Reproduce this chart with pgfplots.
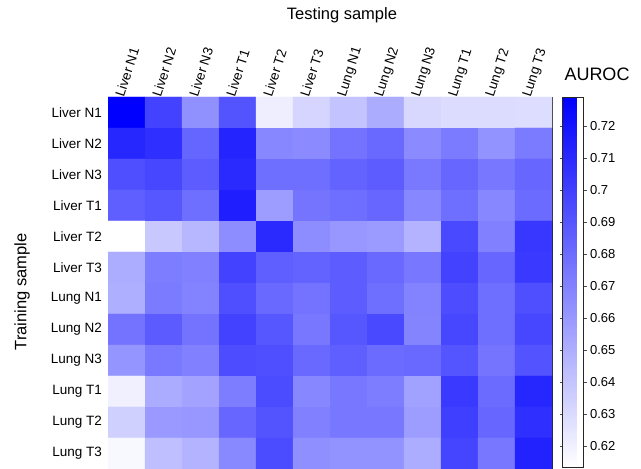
\documentclass[border=0pt]{standalone}
\usepackage{pgfplots}
\pgfplotsset{compat=1.18}
\usepackage{fontspec}
\setmainfont{Liberation Sans}
\begin{document}
\begin{tikzpicture}[x=1pt,y=1pt]
\useasboundingbox (0,0) rectangle (641,469);
\begin{axis}[
  at={(108pt,0pt)}, anchor=south west,
  scale only axis, width=444pt, height=372pt,
  xmin=-0.5, xmax=11.5, ymin=-0.5, ymax=11.5,
  xtick={-0.39,0.61,1.61,2.61,3.61,4.61,5.61,6.61,7.61,8.61,9.61,10.61},
  xticklabels={Liver N1,Liver N2,Liver N3,Liver T1,Liver T2,Liver T3,Lung N1,Lung N2,Lung N3,Lung T1,Lung T2,Lung T3},
  xticklabel pos=right,
  xticklabel style={rotate=72, anchor=north west, font=\fontsize{13.5}{15}\selectfont, inner sep=1.5pt, xshift=1.5pt},
  ytick={0,1,2,3,4,5,6,7,8,9,10,11},
  yticklabels={Lung T3,Lung T2,Lung T1,Lung N3,Lung N2,Lung N1,Liver T3,Liver T2,Liver T1,Liver N3,Liver N2,Liver N1},
  yticklabel style={font=\fontsize{13.5}{15}\selectfont, xshift=-2.5pt},
  tick align=inside,
  major tick length=5pt,
  tick style={black!70, line width=0.6pt},
  axis line style={black!85, line width=0.6pt},
  colormap={bw}{rgb255=(255,255,255) rgb255=(0,0,255)},
  point meta min=0.6134, point meta max=0.729,
  colorbar,
  colorbar style={
    at={(parent axis.north east)}, anchor=north west, xshift=2pt,
    scale only axis, width=21pt, height=370pt,
    ytick={0.62,0.63,0.64,0.65,0.66,0.67,0.68,0.69,0.70,0.71,0.72},
    yticklabels={0.62,0.63,0.64,0.65,0.66,0.67,0.68,0.69,0.7,0.71,0.72},
    yticklabel style={font=\fontsize{13}{15}\selectfont, xshift=0pt},
    tick align=outside, major tick length=3pt,
    tick style={black!70, line width=0.6pt},
    axis line style={black!85, line width=0.6pt},
  },
]
\addplot[matrix plot*, mesh/cols=12, point meta=explicit] table[meta=c] {
x y c
0 11 0.7290
1 11 0.6982
2 11 0.6633
3 11 0.6905
4 11 0.6211
5 11 0.6324
6 11 0.6402
7 11 0.6506
8 11 0.6311
9 11 0.6293
10 11 0.6293
11 11 0.6288
0 10 0.7109
1 10 0.7072
2 10 0.6828
3 10 0.7118
4 10 0.6674
5 10 0.6655
6 10 0.6764
7 10 0.6810
8 10 0.6655
9 10 0.6728
10 10 0.6619
11 10 0.6728
0 9 0.6927
1 9 0.6964
2 9 0.6864
3 9 0.7091
4 9 0.6782
5 9 0.6782
6 9 0.6837
7 9 0.6864
8 9 0.6737
9 9 0.6819
10 9 0.6746
11 9 0.6819
0 8 0.6855
1 8 0.6891
2 8 0.6782
3 8 0.7145
4 8 0.6574
5 8 0.6760
6 8 0.6782
7 8 0.6819
8 8 0.6674
9 8 0.6782
10 8 0.6674
11 8 0.6800
0 7 0.6134
1 7 0.6383
2 7 0.6456
3 7 0.6646
4 7 0.7091
5 7 0.6646
6 7 0.6601
7 7 0.6583
8 7 0.6474
9 7 0.6955
10 7 0.6701
11 7 0.7036
0 6 0.6501
1 6 0.6719
2 6 0.6701
3 6 0.6982
4 6 0.6855
5 6 0.6837
6 6 0.6864
7 6 0.6810
8 6 0.6746
9 6 0.6982
10 6 0.6819
11 6 0.7027
0 5 0.6492
1 5 0.6728
2 5 0.6692
3 5 0.6927
4 5 0.6810
5 5 0.6764
6 5 0.6864
7 5 0.6782
8 5 0.6692
9 5 0.6936
10 5 0.6782
11 5 0.6927
0 4 0.6764
1 4 0.6873
2 4 0.6764
3 4 0.6982
4 4 0.6891
5 4 0.6746
6 4 0.6891
7 4 0.6955
8 4 0.6687
9 4 0.6964
10 4 0.6782
11 4 0.6964
0 3 0.6610
1 3 0.6737
2 3 0.6701
3 3 0.6936
4 3 0.6927
5 3 0.6810
6 3 0.6855
7 3 0.6800
8 3 0.6810
9 3 0.6900
10 3 0.6760
11 3 0.6909
0 2 0.6202
1 2 0.6510
2 2 0.6547
3 2 0.6719
4 2 0.6945
5 2 0.6674
6 2 0.6746
7 2 0.6719
8 2 0.6556
9 2 0.7027
10 2 0.6800
11 2 0.7109
0 1 0.6347
1 1 0.6592
2 1 0.6601
3 1 0.6819
4 1 0.6905
5 1 0.6701
6 1 0.6746
7 1 0.6746
8 1 0.6574
9 1 0.6999
10 1 0.6819
11 1 0.7072
0 0 0.6166
1 0 0.6420
2 0 0.6474
3 0 0.6664
4 0 0.6945
5 0 0.6637
6 0 0.6619
7 0 0.6619
8 0 0.6501
9 0 0.6973
10 0 0.6746
11 0 0.7127
};
\end{axis}
\node[font=\fontsize{16.5}{18}\selectfont] at (342,454) {Testing sample};
\node[rotate=90, font=\fontsize{16.5}{18}\selectfont] at (22,177) {Training sample};
\node[font=\fontsize{18}{20}\selectfont] at (597,395) {AUROC};
\end{tikzpicture}
\end{document}
